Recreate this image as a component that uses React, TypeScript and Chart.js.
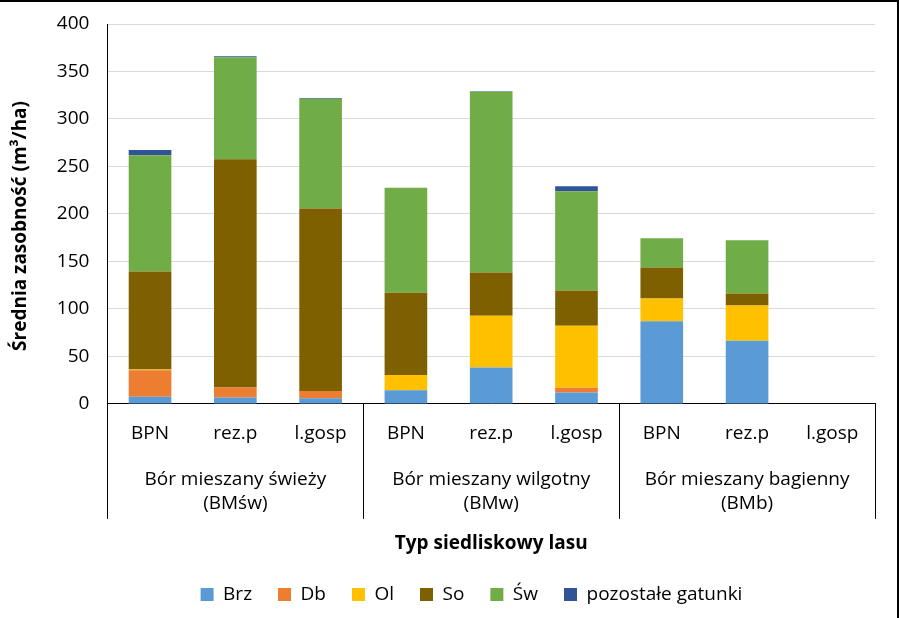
import React, { useEffect, useRef } from "react";
import { Chart, registerables } from "chart.js";

Chart.register(...registerables);

const categories = ["BPN", "rez.p", "l.gosp", "BPN", "rez.p", "l.gosp", "BPN", "rez.p", "l.gosp"];
const groups = [
  ["Bór mieszany świeży", "(BMśw)"],
  ["Bór mieszany wilgotny", "(BMw)"],
  ["Bór mieszany bagienny", "(BMb)"],
];
const yTicks = [0, 50, 100, 150, 200, 250, 300, 350, 400];
const yTitle = "Średnia zasobność (m³/ha)";

const brz = [7.5, 6.7, 6, 14.5, 38.3, 12, 87, 66.5, 0];
const db = [28, 10.5, 7.7, 0, 0, 5, 0, 0, 0];
const ol = [0.8, 0, 0, 16, 54.6, 65.4, 24, 37, 0];
const so = [103, 240.3, 192, 86.5, 45.4, 37, 32.7, 12.7, 0];
const sw = [122.5, 107.5, 115.5, 110.5, 190.3, 104.4, 30.6, 56, 0];
const poz = [5.5, 1, 1, 0, 0.7, 5.3, 0, 0, 0];

const seriesNames = ["Brz", "Db", "Ol", "So", "Św", "pozostałe gatunki"];
const seriesColors = ["#5B9BD5", "#ED7D31", "#FFC000", "#7F6000", "#70AD47", "#2F5597"];

const FONT = "'Open Sans', sans-serif";

export default function App() {
  const ref = useRef<HTMLCanvasElement | null>(null);

  useEffect(() => {
    document.body.style.margin = "0";
    const canvas = ref.current;
    if (!canvas) return;
    const values = [brz, db, ol, so, sw, poz];

    const separators = {
      id: "separators",
      afterLayout(chart: any) {
        if (chart.legend) {
          chart.legend.left += 30;
          chart.legend.right += 30;
        }
      },
      afterDraw(chart: any) {
        const ctx = chart.ctx;
        const x = chart.scales.x;
        const y = chart.scales.y;
        const top = chart.chartArea.bottom;
        const bottom = top + 115;
        ctx.save();
        ctx.strokeStyle = "#000";
        ctx.lineWidth = 1;
        const n = categories.length;
        for (let g = 0; g <= groups.length; g++) {
          const idx = g * (n / groups.length);
          const px = Math.round(x.left + (x.right - x.left) * (idx / n)) + 0.5;
          ctx.beginPath();
          ctx.moveTo(px, top);
          ctx.lineTo(px, bottom);
          ctx.stroke();
        }
        // y axis title, slightly below the plot centre as in the original
        ctx.save();
        ctx.translate(y.left + 13, (chart.chartArea.top + chart.chartArea.bottom) / 2 + 12);
        ctx.rotate(-Math.PI / 2);
        ctx.fillStyle = "#000";
        ctx.font = `bold 19px ${FONT}`;
        ctx.textAlign = "center";
        ctx.textBaseline = "middle";
        ctx.fillText(yTitle, 0, 0);
        ctx.restore();
        // outer frame (top and right)
        ctx.lineWidth = 2;
        ctx.beginPath();
        ctx.moveTo(0, 1);
        ctx.lineTo(chart.width - 1, 1);
        ctx.lineTo(chart.width - 1, chart.height);
        ctx.stroke();
        ctx.restore();
      },
    };

    const chart = new Chart(canvas, {
      type: "bar",
      data: {
        labels: categories,
        datasets: seriesNames.map((name, i) => ({
          label: name,
          data: values[i],
          backgroundColor: seriesColors[i],
          borderWidth: 0,
          barPercentage: 0.5,
          categoryPercentage: 1.0,
          xAxisID: "x",
        })),
      },
      options: {
        animation: false,
        responsive: false,
        maintainAspectRatio: false,
        layout: { padding: { top: 24, right: 24, left: 8, bottom: 4 } },
        plugins: {
          tooltip: { enabled: false },
          legend: {
            position: "bottom",
            labels: {
              boxWidth: 13,
              boxHeight: 13,
              padding: 26,
              color: "#000",
              font: { family: FONT, size: 19 },
            },
          },
        },
        scales: {
          x: {
            stacked: true,
            position: "bottom",
            grid: { display: false, drawTicks: false },
            border: { display: true, color: "#000", width: 1 },
            ticks: { color: "#000", padding: 18, font: { family: FONT, size: 19 } },
          },
          x2: {
            type: "category",
            labels: groups as any,
            position: "bottom",
            offset: true,
            grid: { display: false, drawTicks: false },
            border: { display: false },
            ticks: { color: "#000", padding: 5, font: { family: FONT, size: 19, lineHeight: 1.25 } },
            title: {
              display: true,
              text: "Typ siedliskowy lasu",
              color: "#000",
              font: { family: FONT, size: 19, weight: "bold" },
              padding: { top: 12, bottom: 4 },
            },
          },
          y: {
            stacked: true,
            min: 0,
            max: 400,
            afterBuildTicks(scale: any) {
              scale.ticks = yTicks.map((v) => ({ value: v }));
            },
            afterFit(scale: any) {
              scale.paddingTop = 0;
            },
            grid: { color: "#d9d9d9", lineWidth: 1, drawTicks: false },
            border: { display: true, color: "#000", width: 1 },
            ticks: { color: "#000", padding: 18, font: { family: FONT, size: 19 } },
            title: {
              display: true,
              text: yTitle,
              color: "rgba(0,0,0,0)",
              font: { family: FONT, size: 19, weight: "bold" },
              padding: { top: 0, bottom: 8 },
            },
          },
        },
      } as any,
      plugins: [separators],
    });
    return () => chart.destroy();
  }, []);

  return (
    <div style={{ width: 899, height: 618, background: "#fff" }}>
      <canvas ref={ref} width={899} height={618} style={{ display: "block" }} />
    </div>
  );
}
